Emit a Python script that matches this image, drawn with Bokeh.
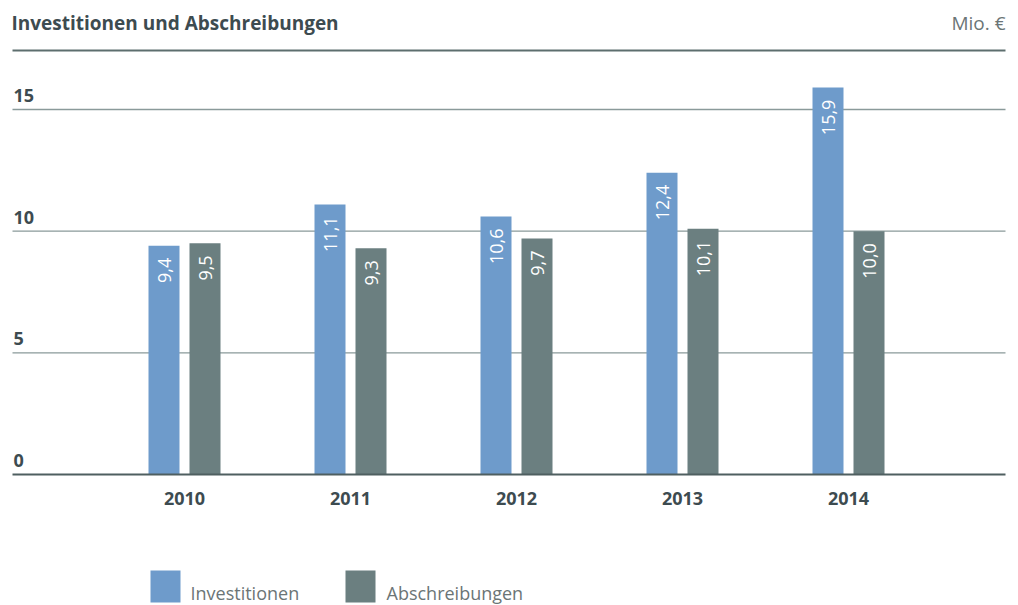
import math
from bokeh.plotting import figure
from bokeh.models import Range1d, ColumnDataSource
from bokeh.core.properties import value
from bokeh.embed import file_html
from bokeh.resources import INLINE

# ---- data ----
years = ["2010", "2011", "2012", "2013", "2014"]
investitionen = [9.4, 11.1, 10.6, 12.4, 15.9]
abschreibungen = [9.5, 9.3, 9.7, 10.1, 10.0]
y_ticks = [0, 5, 10, 15]
series_names = ["Investitionen", "Abschreibungen"]
title_text = "Investitionen und Abschreibungen"
unit_text = "Mio. €"

# ---- style ----
W, H = 1018, 605
BLUE = "#6e9bcb"
GREY = "#6b7f80"
DARK = "#3d4b50"
LIGHT_TXT = "#6b7576"
FONT = "Open Sans"
FS = "18px"
FS_TITLE = "19px"

# pixel layout: category i centred at X0 + DX*i ; value 0 at Y0 pixels from top
X0, DX = 184.0, 166.0
Y0, DY = 474.0, 24.333

def px2x(px):
    return (px - X0) / DX

def py2y(py):
    return (Y0 - py) / DY

p = figure(width=W, height=H, output_backend="svg", toolbar_location=None,
           x_range=Range1d(px2x(0), px2x(W)), y_range=Range1d(py2y(H), py2y(0)),
           min_border=0, min_border_left=0, min_border_right=0,
           min_border_top=0, min_border_bottom=0)
p.axis.visible = False
p.grid.visible = False
p.outline_line_color = None
p.background_fill_color = "white"
p.border_fill_color = "white"

idx = list(range(len(years)))
off = 20.5 / DX
bw = 31.0 / DX

# gridlines
grid_y = [t for t in y_ticks if t != 0]
p.segment(x0=[px2x(12)] * len(grid_y), x1=[px2x(1005)] * len(grid_y),
          y0=grid_y, y1=grid_y, line_color="#8a9a9a", line_width=1.3)

# bars
src_i = ColumnDataSource(dict(x=[i - off for i in idx], top=investitionen,
                              lab=[f"{v:.1f}".replace(".", ",") for v in investitionen],
                              ly=[v - 12 / DY for v in investitionen]))
src_a = ColumnDataSource(dict(x=[i + off for i in idx], top=abschreibungen,
                              lab=[f"{v:.1f}".replace(".", ",") for v in abschreibungen],
                              ly=[v - 12 / DY for v in abschreibungen]))
p.vbar(x="x", top="top", bottom=0, width=bw, source=src_i, fill_color=BLUE, line_color=None)
p.vbar(x="x", top="top", bottom=0, width=bw, source=src_a, fill_color=GREY, line_color=None)

for src in (src_i, src_a):
    p.text(x="x", y="ly", text="lab", source=src, angle=math.pi / 2,
           text_align="right", text_baseline="middle", text_color="white",
           text_font=value(FONT), text_font_size=FS)

# baseline
p.segment(x0=[px2x(12)], x1=[px2x(1005)], y0=[0], y1=[0], line_color="#4f5f60", line_width=2)

# title rule
p.segment(x0=[px2x(12)], x1=[px2x(1005)], y0=[py2y(50)], y1=[py2y(50)],
          line_color="#5d6e6e", line_width=2)

# y tick labels
p.text(x=[px2x(13)] * len(y_ticks), y=y_ticks, text=[str(t) for t in y_ticks],
       y_offset=-14, text_align="left", text_baseline="alphabetic",
       text_color=DARK, text_font=value(FONT), text_font_size=FS, text_font_style="bold")

# category labels
p.text(x=idx, y=[py2y(498)] * len(idx), text=years, text_align="center",
       text_baseline="middle", text_color=DARK, text_font=value(FONT),
       text_font_size=FS, text_font_style="bold")

# title and unit
p.text(x=[px2x(11)], y=[py2y(22)], text=[title_text], text_align="left",
       text_baseline="middle", text_color=DARK, text_font=value(FONT),
       text_font_size=FS_TITLE, text_font_style="bold")
p.text(x=[px2x(1005)], y=[py2y(22)], text=[unit_text], text_align="right",
       text_baseline="middle", text_color=LIGHT_TXT, text_font=value(FONT),
       text_font_size=FS_TITLE)

# legend
leg_px = [165, 360]
leg_txt_px = [190, 386]
p.rect(x=[px2x(v) for v in leg_px], y=[py2y(586)] * 2, width=30, height=32,
       width_units="screen", height_units="screen", fill_color=[BLUE, GREY], line_color=None)
p.text(x=[px2x(v) for v in leg_txt_px], y=[py2y(592)] * 2, text=series_names,
       text_align="left", text_baseline="middle", text_color=LIGHT_TXT,
       text_font=value(FONT), text_font_size=FS)

open("out.html", "w").write(file_html(p, INLINE))
